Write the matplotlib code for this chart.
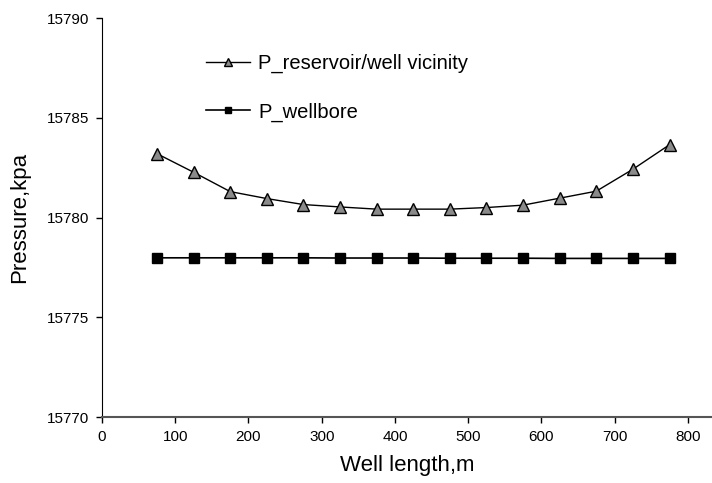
import matplotlib.pyplot as plt

plt.rcParams['font.family'] = ['Liberation Sans', 'DejaVu Sans']

well_length = [75, 125, 175, 225, 275, 325, 375, 425, 475, 525, 575, 625, 675, 725, 775]
p_reservoir = [15783.2, 15782.27, 15781.3, 15780.95, 15780.65, 15780.53, 15780.42, 15780.42,
               15780.42, 15780.5, 15780.62, 15780.97, 15781.32, 15782.42, 15783.65]
p_wellbore = [15777.98, 15777.98, 15777.98, 15777.98, 15777.98, 15777.97, 15777.97, 15777.97,
              15777.96, 15777.96, 15777.96, 15777.95, 15777.95, 15777.95, 15777.95]

fig = plt.figure(figsize=(7.12, 4.83), dpi=100)
ax = fig.add_axes([0.1433, 0.1366, 0.8567, 0.8261])

ax.plot(well_length, p_reservoir, '-^', color='black', linewidth=1.0,
        markersize=9, markerfacecolor='#8a8a8a', markeredgecolor='black',
        markeredgewidth=1.0, label='P_reservoir/well vicinity')
ax.plot(well_length, p_wellbore, '-s', color='black', linewidth=1.2,
        markersize=7.5, markerfacecolor='black', markeredgecolor='black',
        label='P_wellbore')

ax.set_xlim(0, 833)
ax.set_ylim(15770, 15790)
ax.set_xticks(range(0, 900, 100))
ax.set_yticks(range(15770, 15795, 5))
ax.tick_params(direction='out', length=4, width=1, labelsize=11, pad=5)

ax.spines['top'].set_visible(False)
ax.spines['right'].set_visible(False)
ax.spines['left'].set_color('black')
ax.spines['bottom'].set_color('#555555')
ax.spines['bottom'].set_linewidth(1.5)

ax.set_xlabel('Well length,m', fontsize=16, labelpad=8)
ax.set_ylabel('Pressure,kpa', fontsize=16, labelpad=12)

ax.legend(loc='upper left', bbox_to_anchor=(0.14, 0.955), frameon=False,
          fontsize=14.5, labelspacing=1.45, handlelength=2.2, handletextpad=0.4,
          markerscale=0.6)

fig.savefig('out.png', dpi=100)
